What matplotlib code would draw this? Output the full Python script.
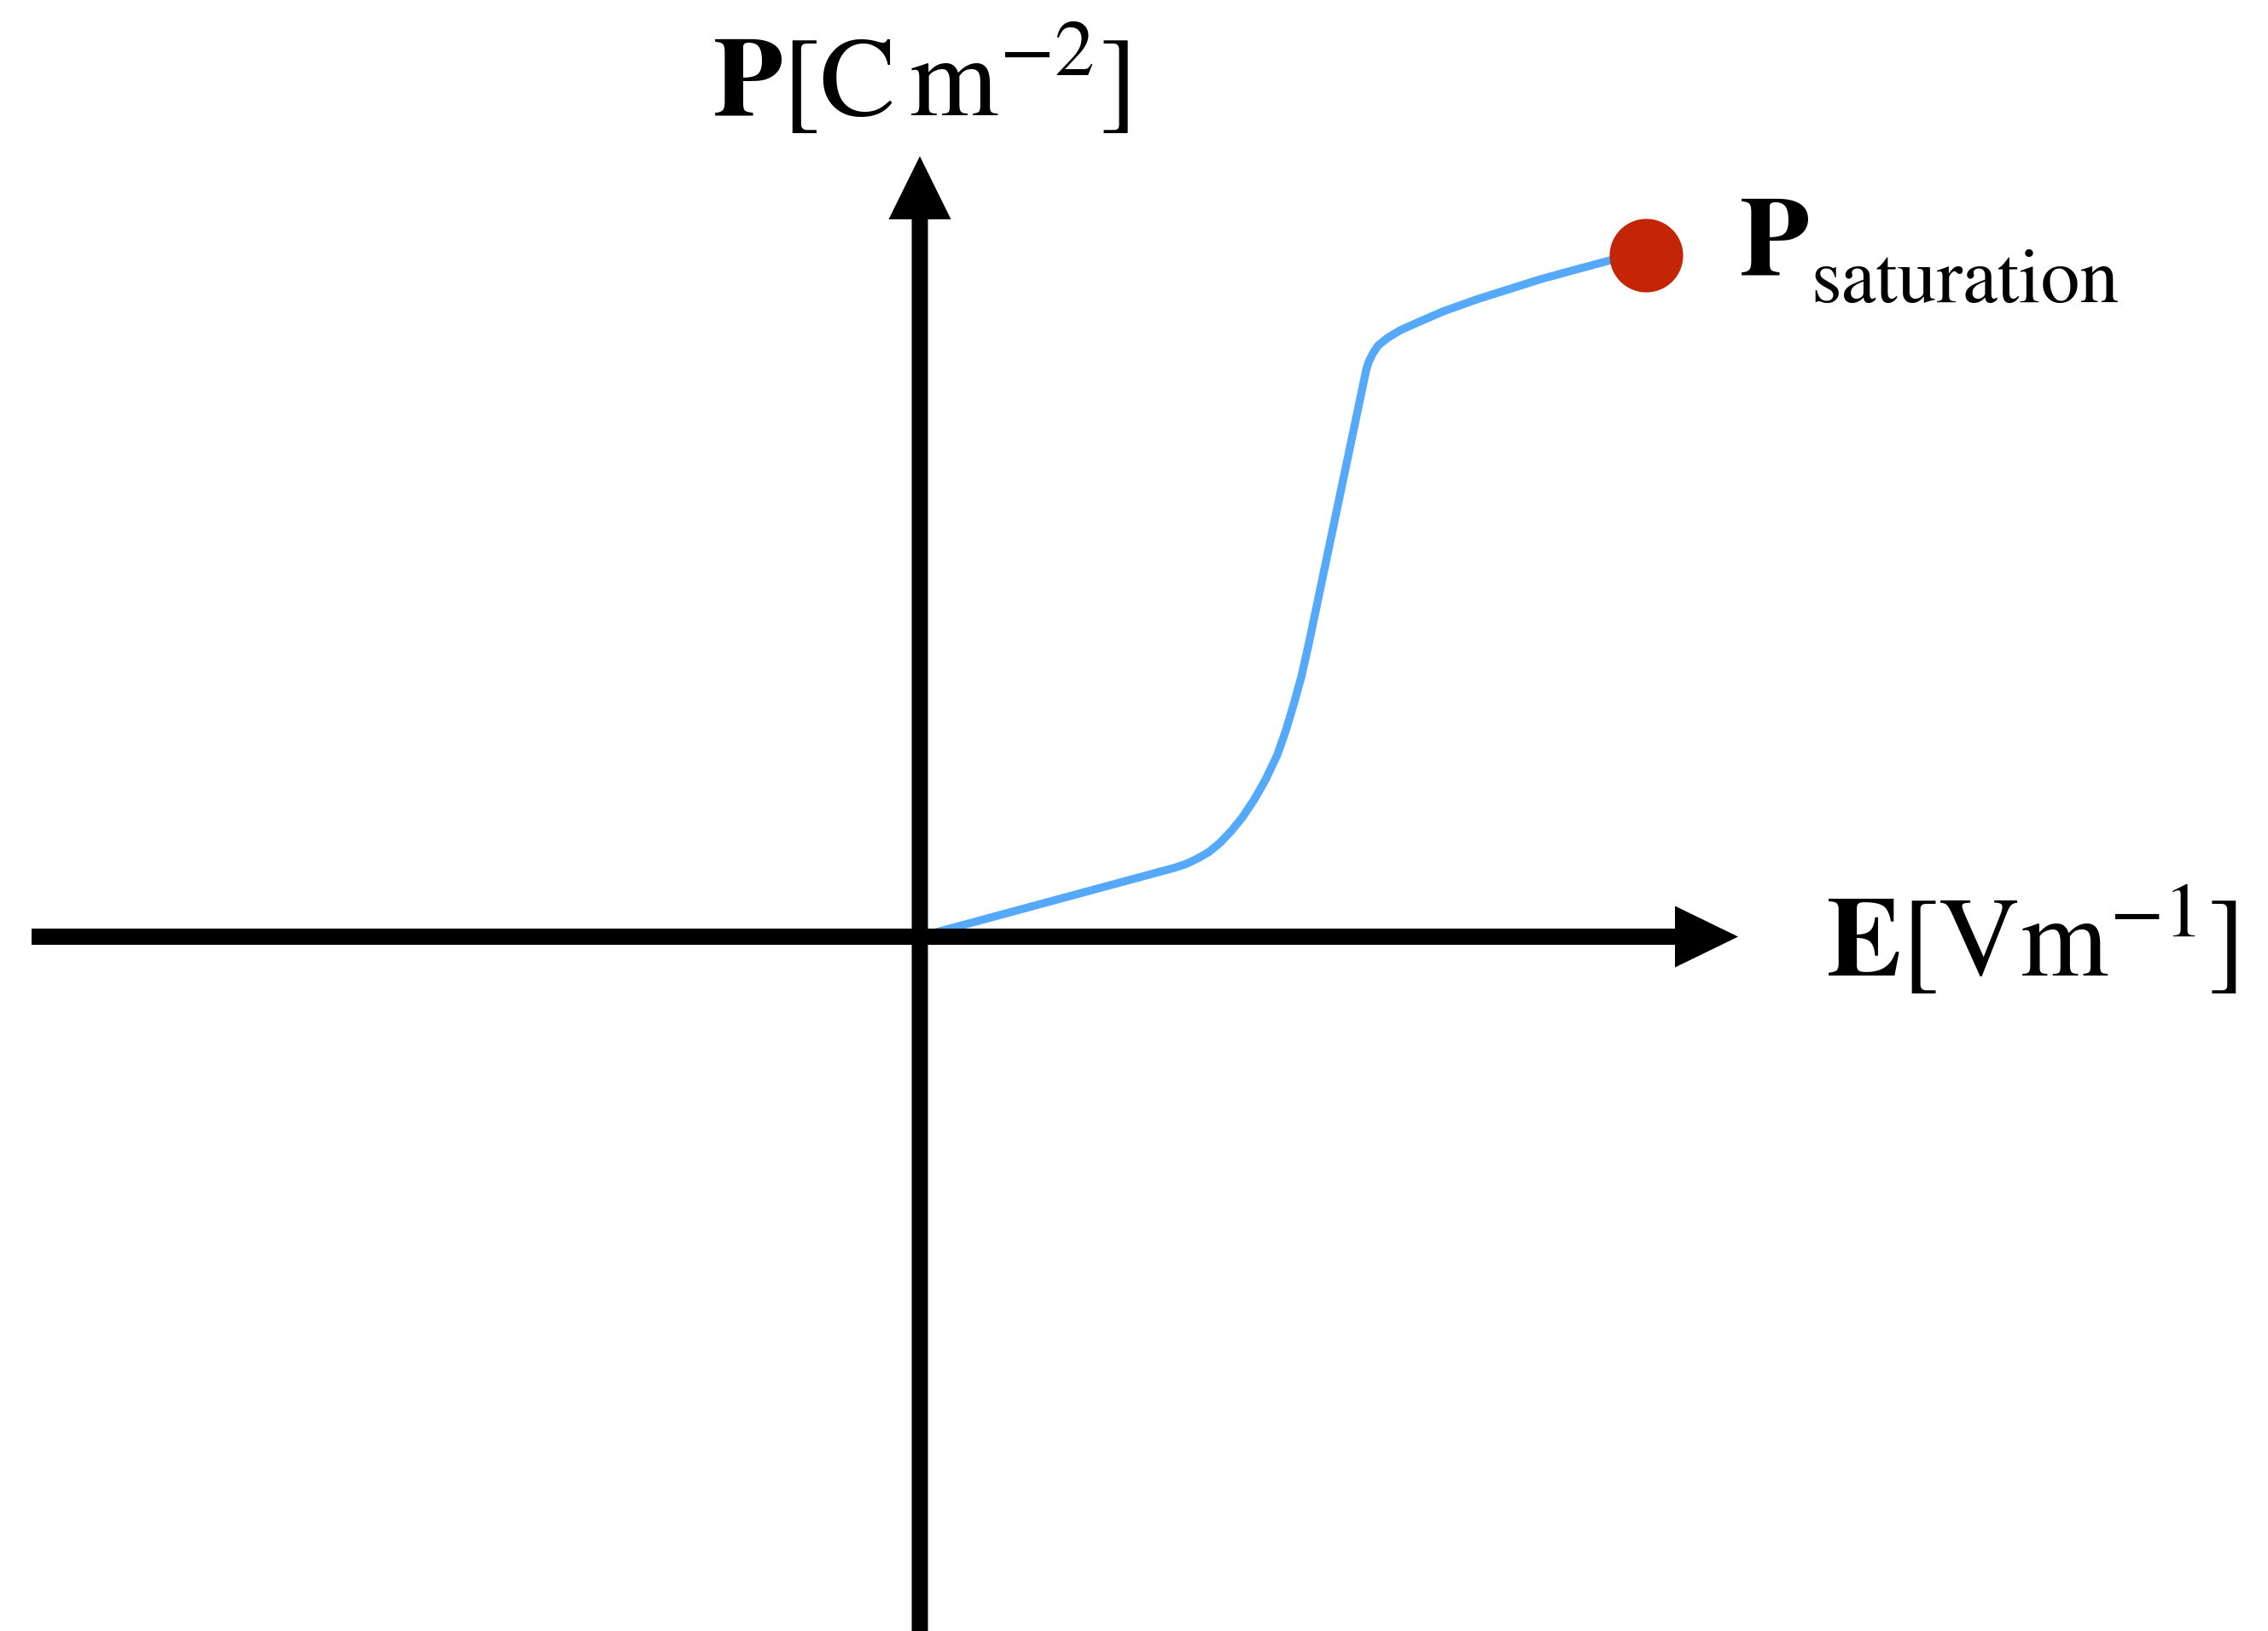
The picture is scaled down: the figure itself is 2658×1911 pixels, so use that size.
import matplotlib
matplotlib.use("Agg")
import matplotlib.pyplot as plt

# Polarisation curve P(E): linear rise, steep switching branch, saturation
field = [0.00, 2.987, 3.12, 3.253, 3.387, 3.52, 3.653, 3.787, 3.92, 4.053,
         4.187, 4.287, 4.387, 4.47, 4.553,
         5.23, 5.26, 5.31, 5.37, 5.48, 5.63, 5.83, 6.13, 6.52, 6.90,
         7.28, 7.72, 8.09, 8.51]
polarisation = [0.00, 0.808, 0.852, 0.915, 0.992, 1.102, 1.242, 1.408, 1.608, 1.842,
                2.125, 2.408, 2.742, 3.042, 3.408,
                6.635, 6.735, 6.835, 6.925, 7.015, 7.105, 7.195, 7.325, 7.465, 7.585,
                7.705, 7.825, 7.925, 7.985]

# Saturation point
sat_field = [8.51]
sat_pol = [7.985]

x_label = r"$\mathbf{E}[\mathrm{Vm}^{-1}]$"
y_label = r"$\mathbf{P}[\mathrm{C\,m}^{-2}]$"
sat_main = r"$\mathbf{P}$"
sat_sub = "saturation"

plt.rcParams["mathtext.fontset"] = "stix"
plt.rcParams["font.family"] = ["STIXGeneral", "DejaVu Serif"]

W, H = 2658, 1911
fig = plt.figure(figsize=(W / 100, H / 100), dpi=100)
ax = fig.add_axes([0, 0, 1, 1])
ax.set_xlim(-10.78, 15.80)
ax.set_ylim(-8.135, 10.975)
ax.axis("off")

# Coordinate axes with arrow heads
ax.arrow(-10.41, 0, 20.0, 0, width=0.19, head_width=0.72, head_length=0.74,
         length_includes_head=True, color="black", linewidth=0, zorder=2)
ax.arrow(0, -8.4, 0, 17.545, width=0.19, head_width=0.73, head_length=0.74,
         length_includes_head=True, color="black", linewidth=0, zorder=2)

# Curve and saturation marker
ax.plot(field, polarisation, color="#54A9FA", linewidth=6.8,
        solid_capstyle="butt", solid_joinstyle="round", zorder=1)
ax.plot(sat_field, sat_pol, "o", color="#C52507", markersize=62,
        markeredgewidth=0, zorder=3)

ax.text(-2.43, 9.615, y_label, fontsize=96, ha="left", va="baseline")
ax.text(10.62, -0.465, x_label, fontsize=95, ha="left", va="baseline")
ax.text(9.60, 7.755, sat_main, fontsize=96, ha="left", va="baseline")
ax.text(10.44, 7.435, sat_sub, fontsize=66, ha="left", va="baseline")

fig.savefig("out.png", dpi=100, facecolor="white")
